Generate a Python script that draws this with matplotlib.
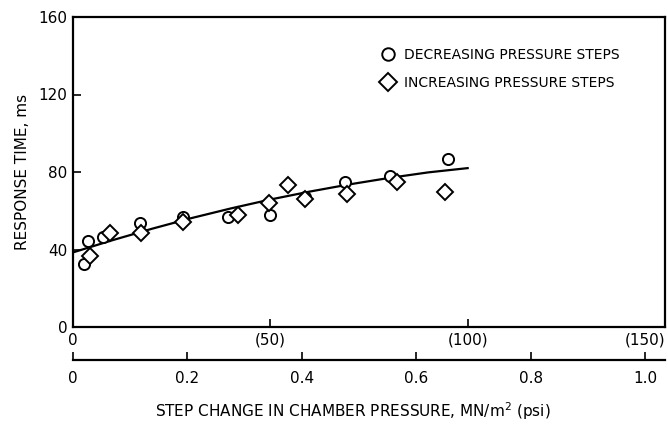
import matplotlib
matplotlib.use("Agg")
import matplotlib.pyplot as plt
from matplotlib.lines import Line2D

# Data (step change in psi, response time in ms)
dec_psi = [2.8, 3.9, 7.7, 17.0, 27.8, 39.4, 49.8, 58.9, 69.0, 80.3, 95.0]
dec_ms = [32.5, 44.4, 46.6, 53.5, 57.0, 57.0, 57.8, 67.3, 74.7, 78.1, 86.5]
inc_psi = [4.3, 9.4, 17.2, 27.8, 41.7, 49.6, 54.4, 58.9, 69.5, 82.0, 94.2]
inc_ms = [36.6, 48.4, 48.4, 54.4, 57.8, 63.8, 73.3, 66.3, 68.5, 75.0, 69.8]
fit_psi = [0, 10, 20, 30, 40, 50, 60, 70, 80, 90, 100]
fit_ms = [38.5, 44.8, 50.7, 56.2, 61.2, 65.8, 69.9, 73.6, 76.9, 79.8, 82.0]

y_ticks = [0, 40, 80, 120, 160]
psi_ticks = [0, 50, 100, 150]
psi_labels = ["0", "(50)", "(100)", "(150)"]
mn_ticks = [0, 0.2, 0.4, 0.6, 0.8, 1.0]
mn_labels = ["0", "0.2", "0.4", "0.6", "0.8", "1.0"]
PSI_PER_MN = 145.04

plt.rcParams['font.family'] = ['DejaVu Sans']

fig = plt.figure(figsize=(6.68, 4.24), dpi=100)
ax = fig.add_axes([73/668, 1 - 327/424, 592/668, 310/424])

ax.plot(fit_psi, fit_ms, color='black', lw=1.6, zorder=2)
ax.plot(dec_psi, dec_ms, linestyle='none', marker='o', markersize=8,
        markerfacecolor='white', markeredgecolor='black', markeredgewidth=1.4, zorder=3)
ax.plot(inc_psi, inc_ms, linestyle='none', marker='D', markersize=8.5,
        markerfacecolor='white', markeredgecolor='black', markeredgewidth=1.4, zorder=3)

ax.set_xlim(0, 150)
ax.set_ylim(0, 160)
ax.set_yticks(y_ticks)
ax.set_yticklabels([str(v) for v in y_ticks])
ax.set_xticks(psi_ticks)
ax.set_xticklabels(psi_labels)
ax.tick_params(direction='in', length=6, width=1.2, labelsize=11, pad=4)
ax.get_xticklabels()[-1].set_horizontalalignment('right')
for s in ax.spines.values():
    s.set_linewidth(1.6)

ax.set_ylabel("RESPONSE TIME, ms", fontsize=11, labelpad=6)

sec = ax.secondary_xaxis(-0.107, functions=(lambda p: p / PSI_PER_MN, lambda m: m * PSI_PER_MN))
sec.set_xticks(mn_ticks)
sec.set_xticklabels(mn_labels)
sec.tick_params(direction='in', length=6, width=1.2, labelsize=11, pad=8)
sec.spines['bottom'].set_linewidth(1.6)
sec.set_xlabel(r"STEP CHANGE IN CHAMBER PRESSURE, MN/m$^\mathregular{2}$ (psi)", fontsize=11, labelpad=10)
sec.xaxis.label.set_x(0.473)

handles = [
    Line2D([], [], linestyle='none', marker='o', markersize=9, markerfacecolor='white',
           markeredgecolor='black', markeredgewidth=1.4),
    Line2D([], [], linestyle='none', marker='D', markersize=9, markerfacecolor='white',
           markeredgecolor='black', markeredgewidth=1.4),
]
ax.legend(handles, ["DECREASING PRESSURE STEPS", "INCREASING PRESSURE STEPS"],
          frameon=False, loc='upper left', bbox_to_anchor=(0.50, 0.94),
          fontsize=10, handlelength=1.0, handletextpad=0.6, labelspacing=1.0)

fig.savefig("out.png", dpi=100)
